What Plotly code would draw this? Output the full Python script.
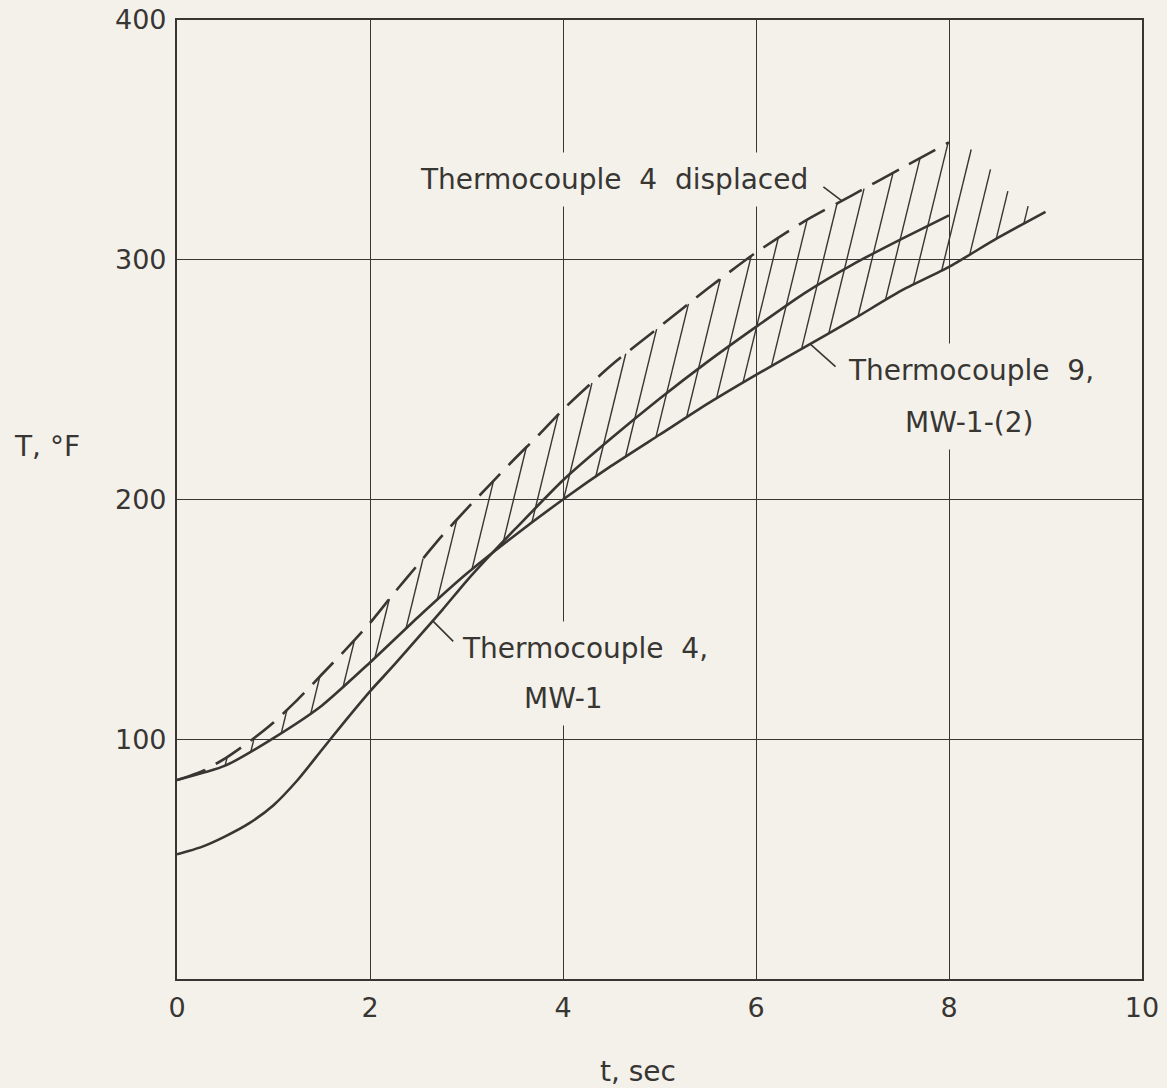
import numpy as np
import plotly.graph_objects as go

# Thermocouple 4, MW-1 (time in sec, temperature in deg F)
t_tc4 = [0, 0.25, 0.5, 0.75, 1.0, 1.25, 1.5, 1.75, 2.0, 2.25, 2.5, 2.75, 3.0,
         3.25, 3.5, 4.0, 4.5, 5.0, 5.5, 6.0, 6.5, 7.0, 7.5, 8.0]
T_tc4 = [52, 55, 59.5, 65, 72.5, 83, 95.5, 108, 120, 131, 142.5, 154, 166,
         177, 187.5, 208, 225.5, 242, 257.5, 272, 286, 298, 308.5, 318.5]

# Thermocouple 9, MW-1-(2)
t_tc9 = [0, 0.5, 1.0, 1.5, 2.0, 2.5, 3.0, 3.5, 4.0, 4.5, 5.0, 5.5, 6.0, 6.5,
         7.0, 7.5, 8.0, 8.5, 9.0]
T_tc9 = [83, 89, 100.5, 114, 132, 151, 169, 185, 200, 214, 227, 240, 252, 263.5,
         275, 287, 297, 309, 320]

# Thermocouple 4 displaced
t_disp = [0, 0.25, 0.5, 0.75, 1.0, 1.25, 1.5, 1.75, 2.0, 2.25, 2.5, 2.75, 3.0,
          3.25, 3.5, 3.75, 4.0, 4.5, 5.0, 5.5, 6.0, 6.5, 7.0, 7.5, 8.0]
T_disp = [83, 86.5, 92, 99, 107, 116.5, 127, 137.5, 148.5, 161, 173, 185, 196,
          206.5, 217, 227, 237.5, 256, 272, 288, 303, 316, 327, 338, 349]

# Hatching between the displaced curve and thermocouple 9
hatch_t = [0.29, 0.52, 0.8, 1.14, 1.48, 1.84, 2.2, 2.55, 2.9, 3.28, 3.62, 3.95,
           4.3, 4.65, 4.97, 5.3, 5.63, 5.95, 6.23, 6.53, 6.84, 7.12, 7.42, 7.7, 7.99]
hatch_tail_t = [8.23, 8.43, 8.61, 8.82]
hatch_tail_T = [346, 337.7, 328.6, 322.4]
HATCH_SLOPE = 165.0  # deg F per sec along each hatch stroke

x_ticks = [0, 2, 4, 6, 8, 10]
x_ticktext = ["0", "2", "4", "6", "8", "10"]
y_ticks = [100, 200, 300, 400]
y_ticktext = ["100", "200", "300", "400"]

INK = "#383633"
BG = "#f4f1eb"
FONT = "DejaVu Sans"

fig = go.Figure()

# hatch strokes: from the top boundary down-left to thermocouple 9
tops_t = list(hatch_t) + list(hatch_tail_t)
tops_T = list(np.interp(hatch_t, t_disp, T_disp)) + list(hatch_tail_T)
hx, hy = [], []
for tt, TT in zip(tops_t, tops_T):
    ts = np.linspace(tt - 1.5, tt, 3001)
    ts = ts[ts >= 0]
    line_T = TT - HATCH_SLOPE * (tt - ts)
    diff = line_T - np.interp(ts, t_tc9, T_tc9)
    idx = np.where(diff <= 0)[0]
    tb = ts[idx[-1]] if len(idx) else ts[0]
    hx += [tt, tb, None]
    hy += [TT, TT - HATCH_SLOPE * (tt - tb), None]
fig.add_trace(go.Scatter(x=hx, y=hy, mode="lines",
                         line=dict(color=INK, width=1.4), hoverinfo="skip"))

fig.add_trace(go.Scatter(x=t_tc9, y=T_tc9, mode="lines",
                         line=dict(color=INK, width=2.6, shape="spline", smoothing=0.6)))
fig.add_trace(go.Scatter(x=t_tc4, y=T_tc4, mode="lines",
                         line=dict(color=INK, width=2.6, shape="spline", smoothing=0.6)))
fig.add_trace(go.Scatter(x=t_disp, y=T_disp, mode="lines",
                         line=dict(color=INK, width=2.6, dash="30px,12px",
                                   shape="spline", smoothing=0.6)))

lab_font = dict(family=FONT, size=28, color=INK)

def label(text, x, y, pad=6):
    fig.add_annotation(x=x, y=y, xref="x", yref="y", text=text, showarrow=False,
                       font=lab_font, bgcolor=BG, borderpad=pad)

def leader(t_pt, series_t, series_T, ax, ay):
    fig.add_annotation(x=t_pt, y=float(np.interp(t_pt, series_t, series_T)),
                       xref="x", yref="y", text="", showarrow=True, arrowhead=0,
                       arrowwidth=1.6, arrowcolor=INK, ax=ax, ay=ay, standoff=0)

label("Thermocouple  4  displaced", 4.53, 333.5, pad=10)
label("Thermocouple  9,", 8.23, 254, pad=10)
label("MW-1-(2)", 8.21, 232, pad=10)
label("Thermocouple  4,", 4.23, 138, pad=10)
label("MW-1", 4.01, 117, pad=10)

leader(6.89, t_disp, T_disp, -20, -15)
leader(6.56, t_tc9, T_tc9, 27, 24)
leader(2.65, t_tc4, T_tc4, 22, 22)

# axis titles
fig.add_annotation(x=0, y=(979 - 446) / 959, xref="paper", yref="paper",
                   xanchor="right", xshift=-95, text="T, °F", showarrow=False,
                   font=lab_font)
fig.add_annotation(x=(638 - 177) / 965, y=0, xref="paper", yref="paper",
                   yanchor="middle", yshift=-92, text="t, sec", showarrow=False,
                   font=lab_font)

fig.update_xaxes(range=[0, 10], tickvals=x_ticks, ticktext=x_ticktext,
                 showgrid=True, gridcolor=INK, gridwidth=1.3, zeroline=False,
                 showline=True, linecolor=INK, linewidth=2.2, mirror=True,
                 ticks="", ticklabelstandoff=3, automargin=False,
                 tickfont=dict(family=FONT, size=27, color=INK))
fig.update_yaxes(range=[0, 400], tickvals=y_ticks, ticktext=y_ticktext,
                 showgrid=True, gridcolor=INK, gridwidth=1.3, zeroline=False,
                 showline=True, linecolor=INK, linewidth=2.2, mirror=True,
                 ticks="", ticklabelstandoff=3, automargin=False,
                 tickfont=dict(family=FONT, size=27, color=INK))

fig.update_layout(width=1167, height=1088, showlegend=False,
                  margin=dict(l=177, r=25, t=20, b=109, autoexpand=False),
                  paper_bgcolor=BG, plot_bgcolor=BG)

fig.write_html("out.html")
